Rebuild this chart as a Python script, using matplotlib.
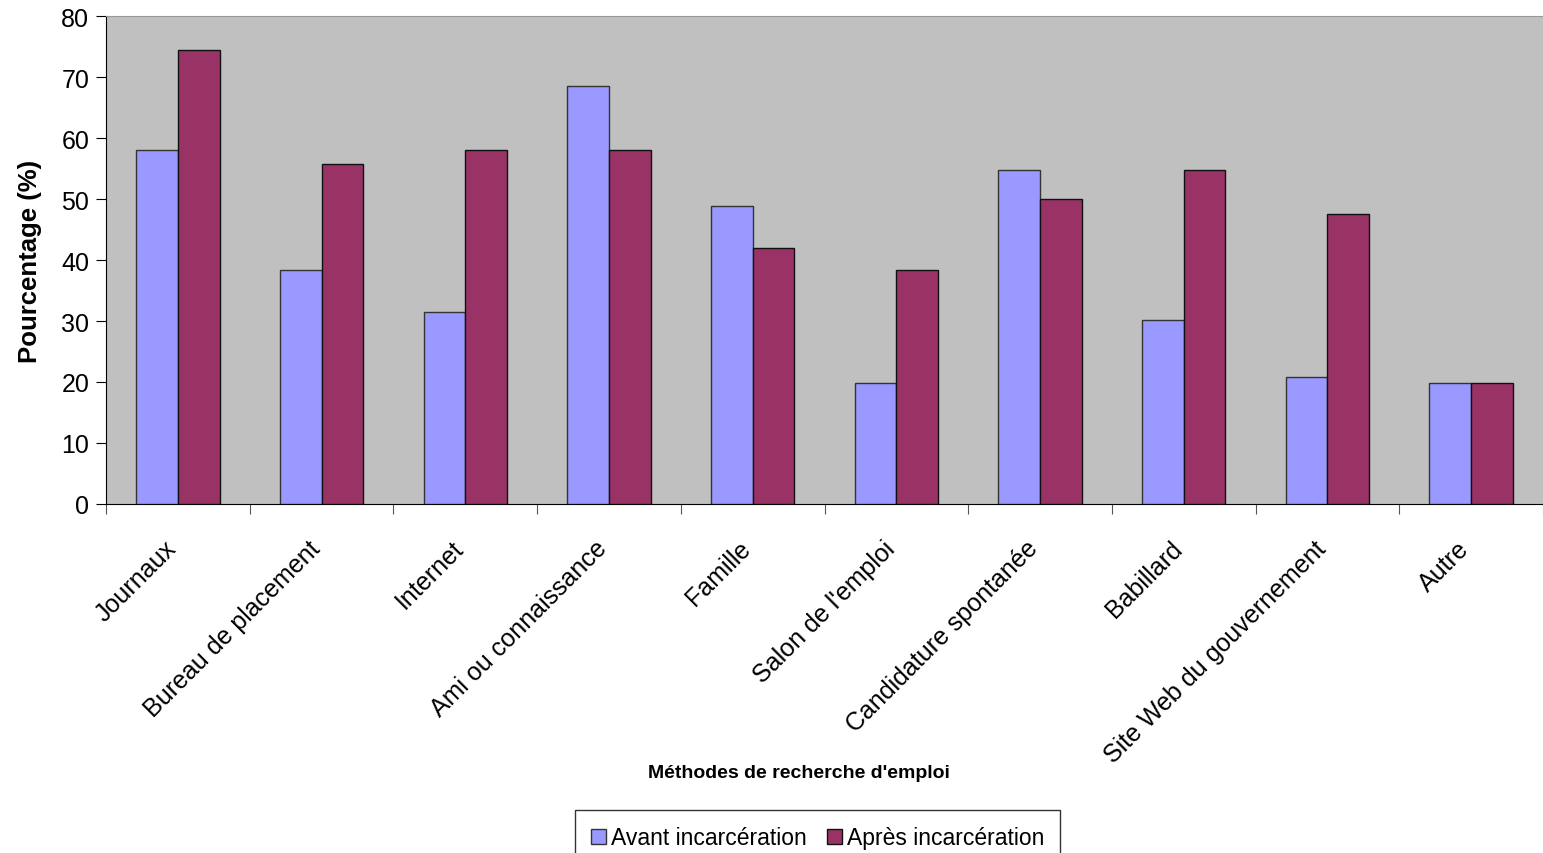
import numpy as np
import matplotlib.pyplot as plt
import matplotlib.transforms as mtransforms

plt.rcParams['font.family'] = ['Liberation Sans', 'DejaVu Sans']

methodes = ['Journaux', 'Bureau de placement', 'Internet', 'Ami ou connaissance',
            'Famille', "Salon de l'emploi", 'Candidature spontanée', 'Babillard',
            'Site Web du gouvernement', 'Autre']
avant = [58.1, 38.4, 31.4, 68.6, 48.8, 19.8, 54.7, 30.2, 20.9, 19.8]
apres = [74.4, 55.8, 58.1, 58.1, 41.9, 38.4, 50.0, 54.7, 47.6, 19.8]

fig = plt.figure(figsize=(15.43, 8.54), dpi=100)
ax = fig.add_axes([0.0687, 0.4087, 0.9313, 0.5713])
ax.set_facecolor('#C0C0C0')

x = np.arange(len(methodes))
w = 0.29
ax.bar(x - w / 2, avant, w, color='#9999FF', edgecolor='#333333', linewidth=1,
       label='Avant incarcération', zorder=3)
ax.bar(x + w / 2, apres, w, color='#993366', edgecolor='#111111', linewidth=1,
       label='Après incarcération', zorder=3)

ax.set_xlim(-0.5, len(methodes) - 0.5)
ax.set_ylim(0, 80)
ax.set_yticks(range(0, 81, 10))
ax.tick_params(axis='y', labelsize=18, length=7, direction='out', pad=5)

# boundaries get the tick marks, centres get the labels
ax.set_xticks(np.arange(len(methodes) + 1) - 0.5)
ax.set_xticklabels([])
ax.tick_params(axis='x', length=7, direction='out', color='#555555')
ax.set_xticks(x, minor=True)
ax.set_xticklabels(methodes, minor=True, rotation=45, ha='right',
                   rotation_mode='anchor', fontsize=18)
ax.tick_params(axis='x', which='minor', length=0, pad=23)
shift = mtransforms.ScaledTranslation(-14 / 100, 0, fig.dpi_scale_trans)
for lbl in ax.get_xticklabels(minor=True):
    lbl.set_transform(lbl.get_transform() + shift)

ax.spines['right'].set_visible(False)
ax.spines['top'].set_color('#999999')
ax.spines['left'].set_color('black')
ax.spines['bottom'].set_color('black')

ax.set_ylabel('Pourcentage (%)', fontsize=18.5, fontweight='bold', labelpad=14)
fig.text(0.518, 0.094, "Méthodes de recherche d'emploi", fontsize=14,
         fontweight='bold', ha='center', va='center')

leg = fig.legend(loc='lower center', bbox_to_anchor=(0.53, -0.028), ncol=2,
                 fontsize=16.5, frameon=True, fancybox=False, edgecolor='black',
                 handlelength=0.65, handleheight=0.65, handletextpad=0.2,
                 columnspacing=0.9, borderpad=0.7)
leg.get_frame().set_linewidth(1)

fig.savefig('out.png', dpi=100)
